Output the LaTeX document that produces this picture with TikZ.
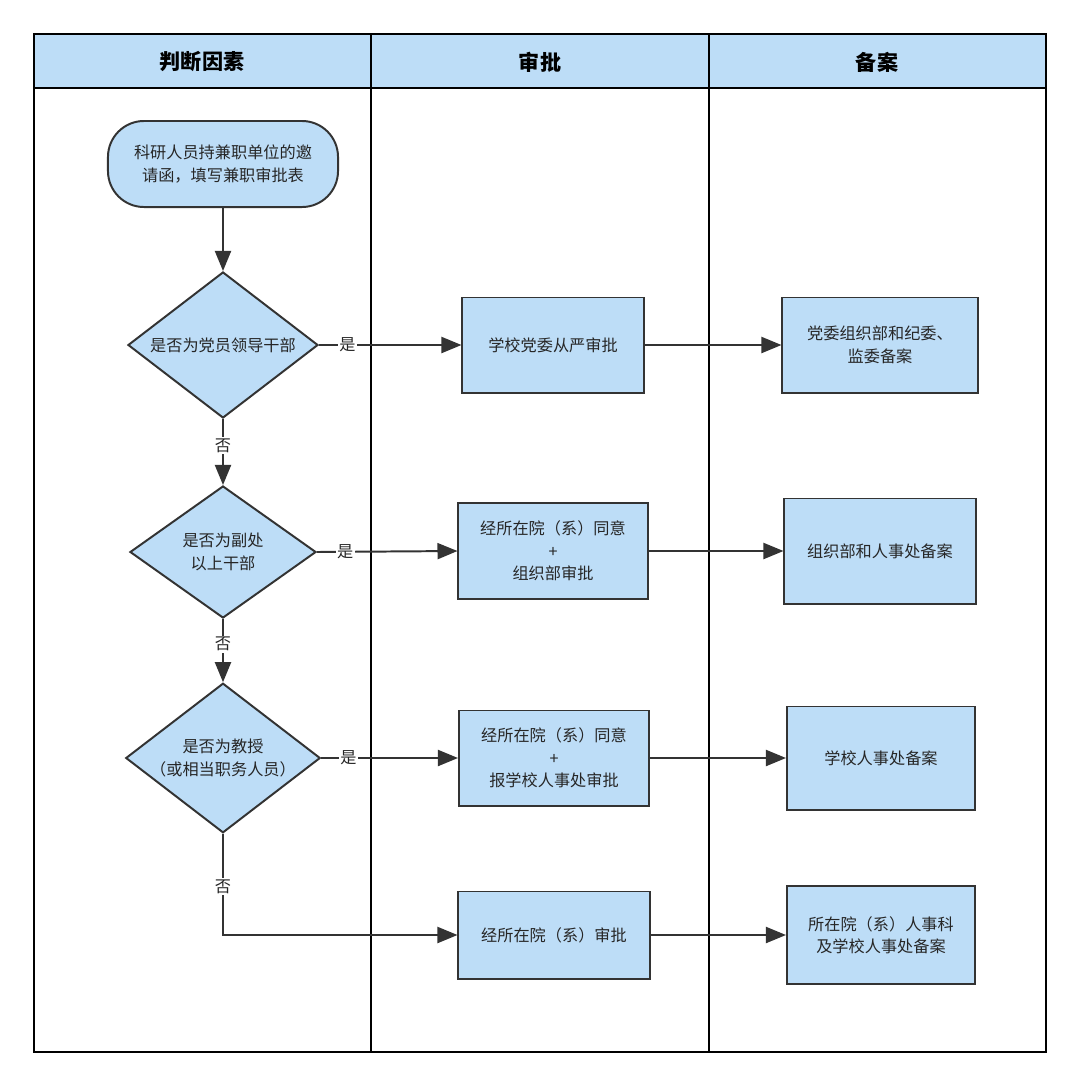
\documentclass[tikz,border=0pt]{standalone}
\usepackage{fontspec}
\setmainfont{Noto Sans CJK SC}
\usepackage{xcolor}
\usetikzlibrary{shapes.geometric,arrows.meta}
\definecolor{boxblue}{RGB}{189,221,247}
\definecolor{linegray}{RGB}{51,51,51}
\newcommand{\FT}{\fontsize{11.5}{16}\selectfont}
\newcommand{\FH}{\fontsize{15}{18}\selectfont\bfseries}

\begin{document}
\begin{tikzpicture}[x=0.025cm,y=-0.025cm]
\tikzstyle{lane}=[black,line width=1.6pt]
\tikzstyle{box}=[draw=linegray,fill=boxblue,line width=1.4pt,text=black!85,font=\FT,align=center,inner sep=0pt]
\tikzstyle{start}=[box,rounded corners=0.9cm]
\tikzstyle{decide}=[box,diamond,aspect=1.3]
\tikzstyle{flow}=[linegray,line width=1.4pt,-{Triangle[length=0.5cm,width=0.4cm]}]
\tikzstyle{tag}=[fill=white,text=black!85,font=\FT,inner sep=1pt]

\useasboundingbox (0,0) rectangle (1080,1087);

% lanes
\fill[boxblue] (34,34) rectangle (1046,88);
\draw[lane] (34,88) -- (1046,88);
\draw[lane] (371,34) -- (371,1052);
\draw[lane] (709,34) -- (709,1052);
\draw[lane] (34,34) rectangle (1046,1052);

\node[font=\FH] (head1) at (202,62) {判断因素};
\node[font=\FH] (head2) at (540,62) {审批};
\node[font=\FH] (head3) at (877,62) {备案};

% judge column
\node[start,minimum width=5.75cm,minimum height=2.15cm] (apply) at (223,164) {科研人员持兼职单位的邀\\请函，填写兼职审批表};
\node[decide,minimum width=4.75cm,minimum height=3.65cm] (ask1) at (223,345) {是否为党员领导干部};
\node[decide,minimum width=4.65cm,minimum height=3.3cm] (ask2) at (223,552) {是否为副处\\以上干部};
\node[decide,minimum width=4.65cm,minimum height=3.6cm] (ask3) at (223,758) {是否为教授\\（或相当职务人员）};

% approve column
\node[box,minimum width=4.525cm,minimum height=2.375cm] (ok1) at (553,345) {学校党委从严审批};
\node[box,minimum width=4.725cm,minimum height=2.4cm] (ok2) at (553,551) {经所在院（系）同意\\+\\组织部审批};
\node[box,minimum width=4.75cm,minimum height=2.375cm] (ok3) at (554,758) {经所在院（系）同意\\+\\报学校人事处审批};
\node[box,minimum width=4.775cm,minimum height=2.175cm] (ok4) at (554,935) {经所在院（系）审批};

% record column
\node[box,minimum width=4.875cm,minimum height=2.375cm] (rec1) at (880,345) {党委组织部和纪委、\\监委备案};
\node[box,minimum width=4.775cm,minimum height=2.625cm] (rec2) at (880,551) {组织部和人事处备案};
\node[box,minimum width=4.7cm,minimum height=2.575cm] (rec3) at (881,758) {学校人事处备案};
\node[box,minimum width=4.7cm,minimum height=2.45cm] (rec4) at (881,935) {所在院（系）人事科\\及学校人事处备案};

% arrows
\draw[flow] (apply) -- (ask1);
\draw[flow] (ask1) -- node[tag,pos=0.4] {否} (ask2);
\draw[flow] (ask2) -- node[tag,pos=0.4] {否} (ask3);
\draw[flow] (ask3.south) |- node[tag,pos=0.26] {否} (ok4.west);

\draw[flow] (ask1.east) -- node[tag,pos=0.2] {是} (ok1.west);
\draw[flow] (ask2.east) -- node[tag,pos=0.2] {是} (ok2.west);
\draw[flow] (ask3.east) -- node[tag,pos=0.2] {是} (ok3.west);

\draw[flow] (ok1) -- (rec1);
\draw[flow] (ok2) -- (rec2);
\draw[flow] (ok3) -- (rec3);
\draw[flow] (ok4) -- (rec4);
\end{tikzpicture}
\end{document}
